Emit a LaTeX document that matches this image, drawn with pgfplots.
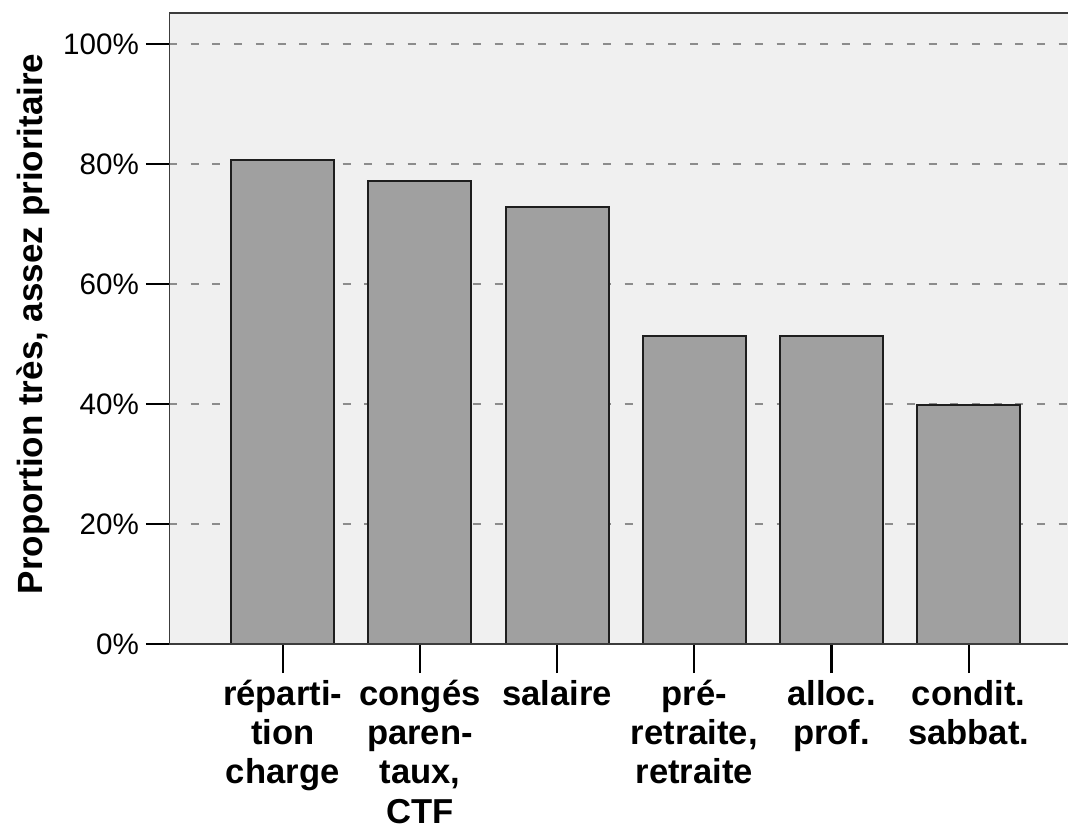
\documentclass[border=0pt]{standalone}
\usepackage{pgfplots}
\pgfplotsset{compat=1.18}
\usepackage{fontspec}
\setmainfont{Liberation Sans}
\definecolor{bgcol}{HTML}{F0F0F0}
\definecolor{barcol}{HTML}{A0A0A0}
\definecolor{barline}{HTML}{1E1E1E}
\definecolor{gridcol}{HTML}{8C8C8C}
\definecolor{axcol}{HTML}{3C3C3C}
\begin{document}
\begin{tikzpicture}
\begin{axis}[
  name=ax,
  scale only axis,
  width=449.5pt, height=315.65pt,
  xmin=-0.829, xmax=5.724,
  ymin=0, ymax=105.2,
  ybar, bar width=0.75, bar shift=0pt,
  axis background/.style={fill=bgcol},
  axis line style={draw=none},
  tick pos=left,
  tick align=outside,
  major tick length=11.5pt,
  x tick style={/pgfplots/major tick length=14.5pt, black, line width=1pt},
  y tick style={black, line width=1pt},
  xtick={0,1,2,3,4,5},
  xticklabels={{réparti-\\tion\\charge},{congés\\paren-\\taux,\\CTF},{salaire},{pré-\\retraite,\\retraite},{alloc.\\prof.},{condit.\\sabbat.}},
  xticklabel style={font=\fontsize{17.3}{19.6}\selectfont\bfseries, align=center, anchor=north, yshift=-3pt},
  ytick={0,20,40,60,80,100},
  yticklabels={0\%,20\%,40\%,60\%,80\%,100\%},
  yticklabel style={font=\fontsize{14.8}{17}\selectfont},
  /pgf/number format/assume math mode=true,
  ymajorgrids,
  grid style={dash pattern=on 4pt off 6.85pt, gridcol, line width=0.9pt},
  ylabel={Proportion très, assez prioritaire},
  every axis y label/.style={at={(axis description cs:-0.1402,0.507)}, rotate=90, anchor=base, font=\fontsize{17.5}{20}\selectfont\bfseries},
]
\addplot[fill=barcol, draw=barline, line width=1pt] coordinates {(0,80.6) (1,77.1) (2,72.8) (3,51.4) (4,51.4) (5,39.9)};
\draw[axcol, line width=1pt] (rel axis cs:0,1) -- (rel axis cs:0,0) -- (rel axis cs:1,0);
\draw[axcol, line width=1pt] (rel axis cs:0,1) -- (rel axis cs:1,1);
\end{axis}
\pgfresetboundingbox
\path[use as bounding box] ([shift={(-84.5pt,-93pt)}]ax.south west) rectangle ++(534pt,415pt);
\end{tikzpicture}
\end{document}
